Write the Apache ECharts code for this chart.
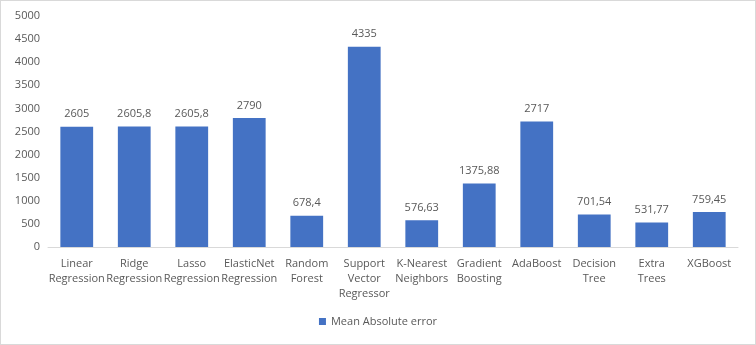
<!DOCTYPE html>
<html>
<head>
<meta charset="utf-8">
<script src="https://cdn.jsdelivr.net/npm/echarts@6/dist/echarts.min.js"></script>
<style>
  html, body { margin: 0; padding: 0; background: #fff; }
  #chart { width: 754px; height: 343px; border: 1px solid #d9d9d9; }
</style>
</head>
<body>
<div id="chart"></div>
<script>
// 模型名称
const models = [
    'Linear\nRegression', 'Ridge\nRegression', 'Lasso\nRegression', 'ElasticNet\nRegression',
    'Random\nForest', 'Support\nVector\nRegressor', 'K-Nearest\nNeighbors', 'Gradient\nBoosting',
    'AdaBoost', 'Decision\nTree', 'Extra\nTrees', 'XGBoost'
];
const maeValues = [2605, 2605.8, 2605.8, 2790, 678.4, 4335, 576.63, 1375.88, 2717, 701.54, 531.77, 759.45];
const yTicks = [0, 500, 1000, 1500, 2000, 2500, 3000, 3500, 4000, 4500, 5000];
const seriesName = 'Mean Absolute error';

const textColor = '#595959';
const fontFamily = 'Open Sans, Liberation Sans, sans-serif';

const myChart = echarts.init(document.getElementById('chart'));
const option = {
    animation: false,
    textStyle: { fontFamily: fontFamily, color: textColor },
    grid: { left: 47, right: 17, top: 15, bottom: 97, containLabel: false },
    legend: {
        bottom: 12,
        left: 'center',
        icon: 'rect',
        itemWidth: 7,
        itemHeight: 7,
        itemGap: 5,
        textStyle: { fontSize: 11, color: textColor, fontFamily: fontFamily },
        data: [seriesName]
    },
    xAxis: {
        type: 'category',
        data: models,
        axisLine: { lineStyle: { color: '#d9d9d9' } },
        axisTick: { show: false },
        axisLabel: {
            interval: 0,
            color: textColor,
            fontSize: 11,
            lineHeight: 15,
            margin: 9,
            fontFamily: fontFamily
        }
    },
    yAxis: {
        type: 'value',
        min: yTicks[0],
        max: yTicks[yTicks.length - 1],
        interval: 500,
        splitLine: { show: false },
        axisLine: { show: false },
        axisTick: { show: false },
        axisLabel: {
            color: textColor,
            fontSize: 11,
            margin: 8,
            fontFamily: fontFamily,
            formatter: function (v) { return String(v); }
        }
    },
    series: [{
        name: seriesName,
        type: 'bar',
        data: maeValues,
        barWidth: '57%',
        itemStyle: { color: '#4472c4' },
        label: {
            show: true,
            position: 'top',
            distance: 7,
            color: textColor,
            fontSize: 11,
            fontFamily: fontFamily,
            formatter: function (p) {
                return String(p.value).replace('.', ',');
            }
        }
    }]
};
myChart.setOption(option);
</script>
</body>
</html>
